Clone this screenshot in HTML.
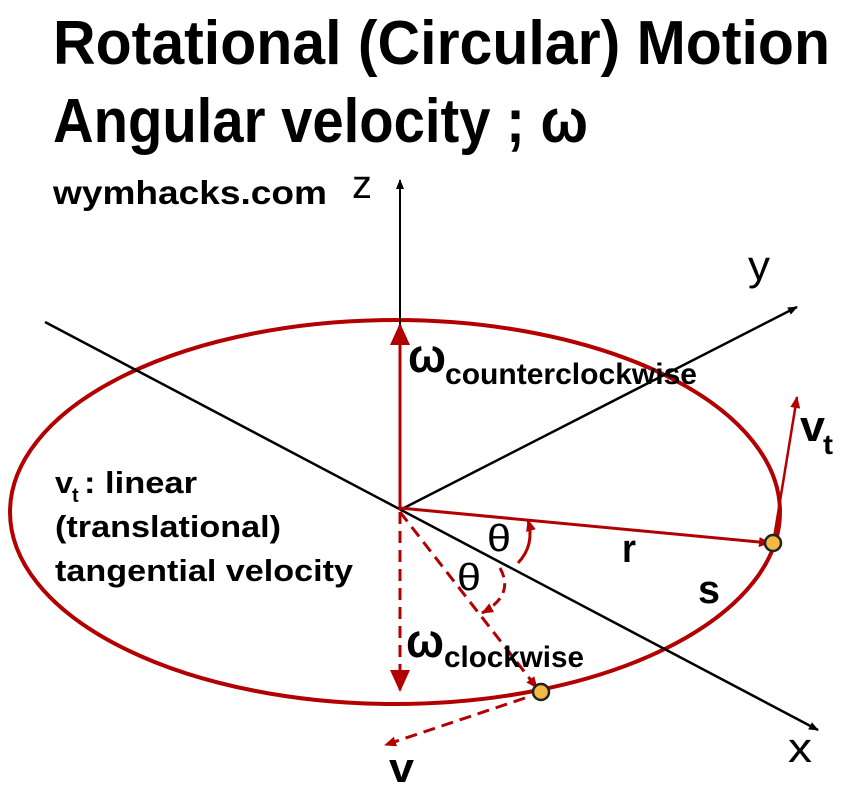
<!DOCTYPE html>
<html><head><meta charset="utf-8"><style>
html,body{margin:0;padding:0;background:#fff;}
svg{display:block;}
text{font-family:"Liberation Sans",sans-serif;}
</style></head><body>
<svg width="848" height="790" viewBox="0 0 848 790" xmlns="http://www.w3.org/2000/svg">
<defs>
<marker id="ab" markerWidth="10" markerHeight="10" refX="9" refY="5" orient="auto" markerUnits="userSpaceOnUse"><path d="M0,1 L10,5 L0,9z" fill="#000"/></marker>
<marker id="ar" markerWidth="12" markerHeight="12" refX="11" refY="6" orient="auto" markerUnits="userSpaceOnUse"><path d="M0,1 L12,6 L0,11z" fill="#b30000"/></marker>
<marker id="arL" markerWidth="22" markerHeight="22" refX="20" refY="11" orient="auto" markerUnits="userSpaceOnUse"><path d="M0,1 L22,11 L0,21z" fill="#b30000"/></marker>
</defs>
<text x="53" y="64" font-size="62" font-weight="bold" textLength="777" lengthAdjust="spacingAndGlyphs">Rotational (Circular) Motion</text>
<text x="53" y="142" font-size="62" font-weight="bold" textLength="535" lengthAdjust="spacingAndGlyphs">Angular velocity ; ω</text>
<text x="53" y="204" font-size="33" font-weight="bold" textLength="274" lengthAdjust="spacingAndGlyphs">wymhacks.com</text>
<text x="352" y="198" font-size="40" textLength="20" lengthAdjust="spacingAndGlyphs">z</text>
<text x="748" y="280" font-size="42" textLength="22" lengthAdjust="spacingAndGlyphs">y</text>
<text x="788" y="762" font-size="42" textLength="24" lengthAdjust="spacingAndGlyphs">x</text>

<ellipse cx="395" cy="512" rx="385" ry="192" fill="none" stroke="#b30000" stroke-width="4"/>
<line x1="45" y1="322" x2="818" y2="730" stroke="#000" stroke-width="2.5" marker-end="url(#ab)"/>
<line x1="400" y1="510" x2="797" y2="307" stroke="#000" stroke-width="2.5" marker-end="url(#ab)"/>
<line x1="400" y1="510" x2="400" y2="180" stroke="#000" stroke-width="2" marker-end="url(#ab)"/>
<line x1="400" y1="510" x2="400" y2="325" stroke="#b30000" stroke-width="3" marker-end="url(#arL)"/>
<line x1="400" y1="508" x2="770" y2="543" stroke="#b30000" stroke-width="3" marker-end="url(#ar)"/>
<line x1="774" y1="538" x2="797" y2="397" stroke="#b30000" stroke-width="2.5" marker-end="url(#ar)"/>
<line x1="400" y1="512" x2="400" y2="690" stroke="#b30000" stroke-width="3" stroke-dasharray="12,7" marker-end="url(#arL)"/>
<line x1="400" y1="512" x2="537" y2="688" stroke="#b30000" stroke-width="3" stroke-dasharray="12,7" marker-end="url(#ar)"/>
<line x1="525" y1="698" x2="385" y2="745" stroke="#b30000" stroke-width="3" stroke-dasharray="12,7" marker-end="url(#ar)"/>
<path d="M518,563 Q535,545 528,520" fill="none" stroke="#b30000" stroke-width="3" marker-end="url(#ar)"/>
<path d="M500,568 Q515,595 482,613" fill="none" stroke="#b30000" stroke-width="3" stroke-dasharray="10,6" marker-end="url(#ar)"/>
<circle cx="773" cy="543" r="8" fill="#f4b942" stroke="#222" stroke-width="2.5"/>
<circle cx="541" cy="692" r="8" fill="#f4b942" stroke="#222" stroke-width="2.5"/>

<text x="408" y="372" font-size="48" font-weight="bold" textLength="38" lengthAdjust="spacingAndGlyphs">ω</text>
<text x="445" y="384" font-size="30" font-weight="bold" textLength="252" lengthAdjust="spacingAndGlyphs">counterclockwise</text>
<text x="406" y="657" font-size="48" font-weight="bold" textLength="38" lengthAdjust="spacingAndGlyphs">ω</text>
<text x="444" y="667" font-size="30" font-weight="bold" textLength="140" lengthAdjust="spacingAndGlyphs">clockwise</text>
<text x="800" y="441" font-size="44" font-weight="bold" textLength="25" lengthAdjust="spacingAndGlyphs">v</text>
<text x="823" y="454" font-size="28" font-weight="bold" textLength="10" lengthAdjust="spacingAndGlyphs">t</text>
<text x="487" y="551" font-size="38" textLength="24" lengthAdjust="spacingAndGlyphs">θ</text>
<text x="457" y="590" font-size="38" textLength="24" lengthAdjust="spacingAndGlyphs">θ</text>
<text x="622" y="562" font-size="40" font-weight="bold" textLength="14" lengthAdjust="spacingAndGlyphs">r</text>
<text x="698" y="603" font-size="40" font-weight="bold" textLength="22" lengthAdjust="spacingAndGlyphs">s</text>
<text x="389" y="782" font-size="42" font-weight="bold" textLength="25" lengthAdjust="spacingAndGlyphs">v</text>

<text x="55" y="493" font-size="31" font-weight="bold" textLength="18" lengthAdjust="spacingAndGlyphs">v</text>
<text x="72" y="502" font-size="20" font-weight="bold">t</text>
<text x="84" y="493" font-size="31" font-weight="bold" textLength="113" lengthAdjust="spacingAndGlyphs">: linear</text>
<text x="55" y="537" font-size="31" font-weight="bold" textLength="226" lengthAdjust="spacingAndGlyphs">(translational)</text>
<text x="55" y="581" font-size="31" font-weight="bold" textLength="298" lengthAdjust="spacingAndGlyphs">tangential velocity</text>
</svg>
</body></html>
